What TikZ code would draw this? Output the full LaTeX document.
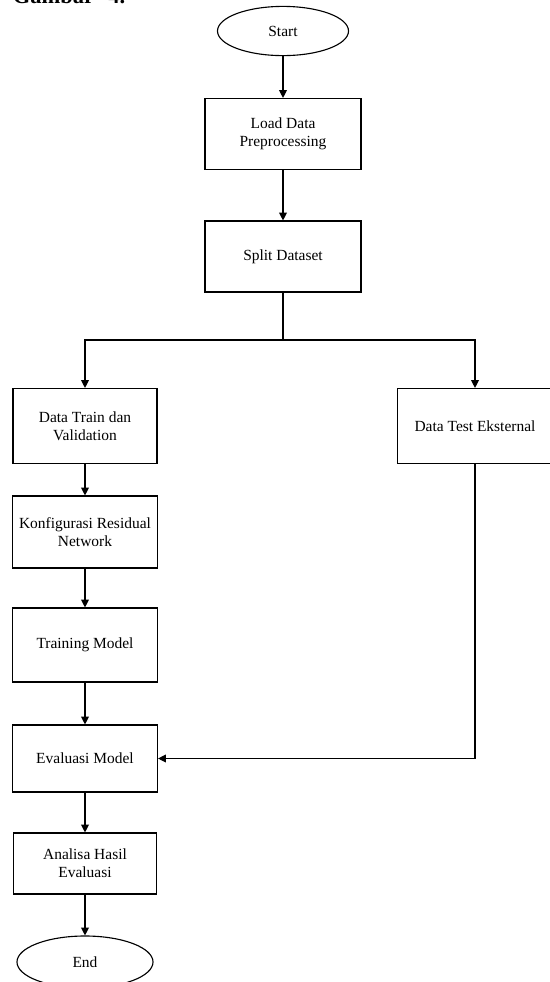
\documentclass[tikz,border=0pt]{standalone}
\usepackage{fontspec}
\setmainfont{Liberation Serif}
\usetikzlibrary{arrows.meta, positioning, shapes.geometric}

\begin{document}
\begin{tikzpicture}[
    x=0.025cm, y=-0.025cm,
    terminal/.style={ellipse, draw, line width=0.8pt, inner sep=0pt, font=\fontsize{11}{13}\selectfont},
    process/.style={rectangle, draw, line width=0.8pt, minimum width=3.625cm, minimum height=1.8cm, inner sep=2pt, align=center, font=\fontsize{11}{13}\selectfont},
    flow/.style={-{Triangle[length=5.5pt, width=5.5pt]}, line width=0.8pt}
]
    \useasboundingbox (0,0) rectangle (550,982);

    \node[anchor=base west, font=\fontsize{16}{18}\selectfont\bfseries] (caption) at (8,3) {Gambar\hspace{10pt}4.};

    \node[terminal, minimum width=3.275cm, minimum height=1.23cm] (start) at (283,31) {Start};
    \node[process, minimum width=3.9cm, minimum height=1.775cm] (load) at (283,134) {Load Data\\Preprocessing};
    \node[process, minimum width=3.9cm, minimum height=1.775cm] (split) at (283,256.5) {Split Dataset};
    \coordinate (branch) at (283,340);

    \node[process, minimum width=3.6cm, minimum height=1.875cm] (train) at (85,426) {Data Train dan\\Validation};
    \node[process, minimum width=3.875cm, minimum height=1.875cm] (test) at (475,426) {Data Test Eksternal};
    \node[process] (konfig) at (85,532) {Konfigurasi Residual\\Network};
    \node[process, minimum height=1.85cm] (training) at (85,645) {Training Model};
    \node[process, minimum height=1.675cm] (eval) at (85,758.5) {Evaluasi Model};
    \node[process, minimum width=3.575cm, minimum height=1.525cm] (analisa) at (85,863.5) {Analisa Hasil\\Evaluasi};
    \node[terminal, minimum width=3.4cm, minimum height=1.3cm] (end) at (85,962) {End};

    \draw[flow] (start) -- (load);
    \draw[flow] (load) -- (split);
    \draw[line width=0.8pt] (split) -- (branch);
    \draw[flow] (branch) -| (train);
    \draw[flow] (branch) -| (test);
    \draw[flow] (train) -- (konfig);
    \draw[flow] (konfig) -- (training);
    \draw[flow] (training) -- (eval);
    \draw[flow] (test) |- (eval);
    \draw[flow] (eval) -- (analisa);
    \draw[flow] (analisa) -- (end);
\end{tikzpicture}
\end{document}
